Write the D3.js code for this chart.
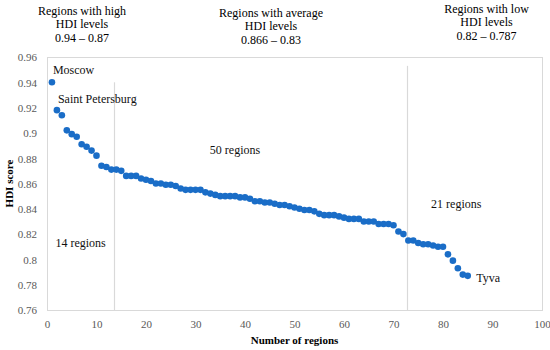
<!DOCTYPE html>
<html>
<head>
<meta charset="utf-8">
<script src="https://cdn.jsdelivr.net/npm/d3@7"></script>
<style>
  body { margin: 0; background: #fff; }
  svg, svg text { font-family: "Liberation Serif", "Times New Roman", "DejaVu Serif", serif !important; }
</style>
</head>
<body>
<svg id="chart" width="550" height="350"></svg>
<script>
// HDI score of each region, ranked (region number = position in list)
const hdiScores = [
  0.940, 0.918, 0.914, 0.902, 0.899, 0.897, 0.891, 0.889, 0.886, 0.882,
  0.874, 0.873, 0.871, 0.871, 0.870, 0.866, 0.866, 0.866, 0.864, 0.863,
  0.862, 0.860, 0.860, 0.859, 0.859, 0.858, 0.856, 0.855, 0.855, 0.855,
  0.855, 0.853, 0.852, 0.851, 0.850, 0.850, 0.850, 0.850, 0.849, 0.849,
  0.848, 0.846, 0.846, 0.845, 0.845, 0.844, 0.843, 0.843, 0.842, 0.841,
  0.840, 0.839, 0.839, 0.838, 0.836, 0.835, 0.835, 0.835, 0.834, 0.833,
  0.832, 0.832, 0.832, 0.830, 0.830, 0.830, 0.828, 0.828, 0.828, 0.827,
  0.822, 0.820, 0.815, 0.815, 0.813, 0.812, 0.812, 0.811, 0.810, 0.810,
  0.804, 0.799, 0.793, 0.788, 0.787
];

// group boundaries (x) and how high each divider goes (y)
const dividerX = [13.6, 72.8];
const dividerTop = [0.94, 0.953];

const xTicks = [0, 10, 20, 30, 40, 50, 60, 70, 80, 90, 100];
const yTicks = [0.76, 0.78, 0.8, 0.82, 0.84, 0.86, 0.88, 0.9, 0.92, 0.94, 0.96];

const groupHeaders = [
  ["Regions with high", "HDI levels", "0.94 \u2013 0.87"],
  ["Regions with average", "HDI levels", "0.866 \u2013 0.83"],
  ["Regions with low", "HDI levels", "0.82 \u2013 0.787"]
];

const notes = ["Moscow", "Saint Petersburg", "14 regions", "50 regions", "21 regions", "Tyva"];

// ---- layout ----
const plot = { left: 47, right: 542, top: 57, bottom: 310 };
const grey = "#d9d9d9";
const tickColor = "#595959";
const dotColor = "#1a6dc7";
const serif = "'Liberation Serif', 'Times New Roman', 'DejaVu Serif', serif";

let svg = d3.select("#chart");

let x = d3.scaleLinear().domain([0, 100]).range([plot.left, plot.right]);
let y = d3.scaleLinear().domain([0.76, 0.96]).range([plot.bottom, plot.top]);

// plot frame
svg.append("rect")
  .attr("x", plot.left + 0.5)
  .attr("y", plot.top + 0.5)
  .attr("width", plot.right - plot.left)
  .attr("height", plot.bottom - plot.top)
  .attr("fill", "none")
  .attr("stroke", grey)
  .attr("stroke-width", 1);

// axes (labels only, Excel style)
let xAxis = svg.append("g")
  .attr("transform", "translate(0," + (plot.bottom + 5) + ")")
  .call(d3.axisBottom(x).tickValues(xTicks).tickSize(0).tickPadding(5));

let yAxis = svg.append("g")
  .attr("transform", "translate(" + (plot.left - 10) + ",0)")
  .call(d3.axisLeft(y).tickValues(yTicks).tickSize(0).tickPadding(0)
    .tickFormat(d => String(+d.toFixed(2))));

[xAxis, yAxis].forEach(g => {
  g.attr("font-family", serif).attr("font-size", 11);
  g.select(".domain").remove();
  g.selectAll("text")
    .attr("fill", tickColor);
});
yAxis.selectAll("text").attr("dy", "0.35em");

// axis titles
svg.append("text")
  .attr("x", (plot.left + plot.right) / 2)
  .attr("y", 344)
  .attr("text-anchor", "middle")
  .attr("font-family", serif)
  .attr("font-size", 11)
  .attr("font-weight", "bold")
  .text("Number of regions");

svg.append("text")
  .attr("transform", "translate(13," + (plot.top + plot.bottom) / 2 + ") rotate(-90)")
  .attr("text-anchor", "middle")
  .attr("font-family", serif)
  .attr("font-size", 11)
  .attr("font-weight", "bold")
  .text("HDI score");

// group dividers
svg.selectAll(".divider")
  .data(dividerX)
  .enter().append("line")
  .classed("divider", true)
  .attr("x1", d => Math.round(x(d)) + 0.5)
  .attr("x2", d => Math.round(x(d)) + 0.5)
  .attr("y1", (d, i) => y(dividerTop[i]))
  .attr("y2", plot.bottom)
  .attr("stroke", grey)
  .attr("stroke-width", 1.2);

// points
svg.selectAll(".dot")
  .data(hdiScores)
  .enter().append("circle")
  .classed("dot", true)
  .attr("cx", (d, i) => x(i + 1))
  .attr("cy", d => y(d))
  .attr("r", 3.3)
  .attr("fill", dotColor);

// headers above the plot
let headerPos = [
  { cx: 82, top: 15 },
  { cx: 271, top: 16.7 },
  { cx: 486.5, top: 12.7 }
];
groupHeaders.forEach((lines, i) => {
  svg.append("text")
    .attr("x", headerPos[i].cx)
    .attr("y", headerPos[i].top)
    .attr("text-anchor", "middle")
    .attr("font-family", serif)
    .attr("font-size", 12)
    .selectAll("tspan")
    .data(lines)
    .enter().append("tspan")
    .attr("x", headerPos[i].cx)
    .attr("dy", (d, j) => j === 0 ? 0 : 13.4)
    .text(d => d);
});

// annotations inside the plot, placed in data units
let notePos = [
  [1.2, 0.9466], [2.2, 0.9234], [1.7, 0.8097],
  [32.9, 0.8833], [77.6, 0.8403], [86.7, 0.7822]
];
svg.selectAll(".note")
  .data(notes)
  .enter().append("text")
  .classed("note", true)
  .attr("x", (d, i) => x(notePos[i][0]))
  .attr("y", (d, i) => y(notePos[i][1]))
  .attr("font-family", serif)
  .attr("font-size", 12)
  .attr("fill", "#111")
  .text(d => d);
</script>
</body>
</html>
